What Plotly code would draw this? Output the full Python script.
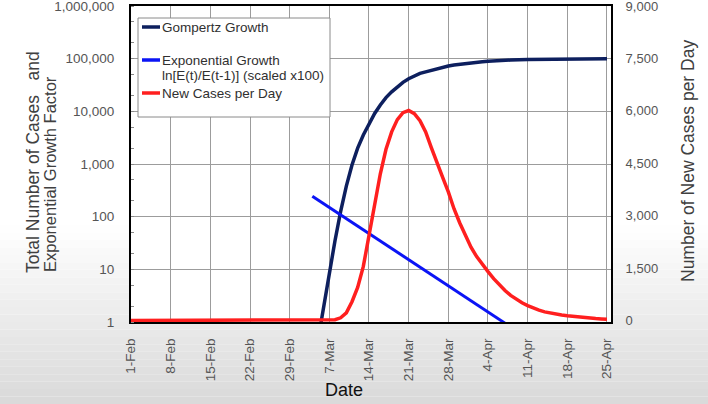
import pandas as pd
import plotly.graph_objects as go

# ---------------- data ----------------
gompertz_dates = [
    "2020-03-05", "2020-03-06", "2020-03-07", "2020-03-08", "2020-03-09",
    "2020-03-10", "2020-03-11", "2020-03-12", "2020-03-13", "2020-03-14",
    "2020-03-15", "2020-03-16", "2020-03-17", "2020-03-18", "2020-03-19",
    "2020-03-20", "2020-03-21", "2020-03-22", "2020-03-23", "2020-03-24",
    "2020-03-25", "2020-03-26", "2020-03-27", "2020-03-28", "2020-03-29",
    "2020-03-30", "2020-03-31", "2020-04-01", "2020-04-02", "2020-04-03",
    "2020-04-04", "2020-04-06", "2020-04-08", "2020-04-11", "2020-04-15",
    "2020-04-20", "2020-04-25",
]
gompertz_values = [
    0.45, 2.0, 8.9, 35, 126,
    380, 955, 2000, 3550, 5900,
    9100, 13200, 18200, 23400, 29500,
    35500, 41700, 46800, 52500, 56200,
    60300, 64600, 69200, 72400, 75900,
    78500, 81300, 83200, 85100, 87100,
    89100, 92300, 94400, 96600, 98400,
    99500, 100000,
]

exponential_dates = ["2020-03-04", "2020-03-11", "2020-03-18", "2020-03-25",
                     "2020-04-01", "2020-04-06", "2020-04-07"]
exponential_values = [245, 78, 25, 8, 2.5, 1.1, 0.95]

new_cases_dates = pd.date_range("2020-02-01", "2020-04-25", freq="D")
new_cases_values = [0] * 35 + [
    5, 25, 80, 220, 540, 950, 1550, 2450, 3250, 4200,
    4900, 5400, 5750, 5950, 6010, 5920, 5720, 5400, 4950, 4500,
    4100, 3680, 3200, 2800, 2430, 2100, 1830, 1600, 1400, 1200,
    1020, 860, 720, 610, 510, 430, 360, 300, 250, 215,
    185, 160, 140, 120, 100, 85, 70, 58, 48, 40,
]

left_tick_values = [1, 10, 100, 1000, 10000, 100000, 1000000]
left_tick_labels = ["1", "10", "100", "1,000", "10,000", "100,000", "1,000,000"]
right_tick_values = [0, 1500, 3000, 4500, 6000, 7500, 9000]

series_names = ["Gompertz Growth",
                "Exponential Growth",
                "ln[E(t)/E(t-1)] (scaled x100)",
                "New Cases per Day"]

# ---------------- styling ----------------
FONT = "Liberation Sans, Arial, sans-serif"
NAVY = "#0d1f5e"
BLUE = "#0b14f5"
RED = "#ff1f1f"
GRID = "#9c9c9c"

W, H = 708, 404
L, R, T, B = 131, 97, 6, 82
PW, PH = W - L - R, H - T - B


def px(xp):
    return (xp - L) / PW


def py(yp):
    return (H - B - yp) / PH


fig = go.Figure()
fig.add_trace(go.Scatter(x=gompertz_dates, y=gompertz_values, mode="lines",
                         name=series_names[0], line=dict(color=NAVY, width=3.5),
                         yaxis="y", showlegend=False))
fig.add_trace(go.Scatter(x=exponential_dates, y=exponential_values, mode="lines",
                         name=series_names[1], line=dict(color=BLUE, width=3),
                         yaxis="y", showlegend=False))
fig.add_trace(go.Scatter(x=new_cases_dates, y=new_cases_values, mode="lines",
                         name=series_names[3], line=dict(color=RED, width=3.5),
                         yaxis="y2", showlegend=False))

shapes = []
# background gradient at the bottom of the picture
n_bands = 24
top_px, bot_px = 225, 404
for i in range(n_bands):
    y0 = top_px + (bot_px - top_px) * i / n_bands
    y1 = top_px + (bot_px - top_px) * (i + 1) / n_bands
    t = (i + 0.5) / n_bands
    c = int(round(255 - 38 * t))
    shapes.append(dict(type="rect", xref="paper", yref="paper",
                       x0=px(0), x1=px(W), y0=py(y1), y1=py(y0),
                       fillcolor=f"rgb({c},{c},{c})", line=dict(width=0),
                       layer="below"))
# white plot area
shapes.append(dict(type="rect", xref="paper", yref="paper", x0=0, x1=1, y0=0, y1=1,
                   fillcolor="white", line=dict(width=0), layer="below"))

# custom legend
shapes.append(dict(type="rect", xref="paper", yref="paper",
                   x0=px(138), x1=px(330), y0=py(117), y1=py(18),
                   fillcolor="white", line=dict(color="#8a8a8a", width=1),
                   layer="above"))
for ypix, col in [(27, NAVY), (60, BLUE), (93, RED)]:
    shapes.append(dict(type="line", xref="paper", yref="paper",
                       x0=px(142), x1=px(160), y0=py(ypix), y1=py(ypix),
                       line=dict(color=col, width=3.5), layer="above"))

annotations = []
for ypix, txt in [(27, series_names[0]), (60, series_names[1]),
                  (76, series_names[2]), (93, series_names[3])]:
    annotations.append(dict(xref="paper", yref="paper", x=px(160), y=py(ypix),
                            xanchor="left", yanchor="middle", showarrow=False,
                            text=txt, font=dict(family=FONT, size=13.5, color="#303030")))

# axis titles
annotations.append(dict(xref="paper", yref="paper", x=px(33), y=py(275),
                        xanchor="center", yanchor="bottom", showarrow=False,
                        textangle=-90, text="Total Number of Cases&nbsp;&nbsp; and",
                        font=dict(family=FONT, size=17.5, color="#404040")))
annotations.append(dict(xref="paper", yref="paper", x=px(50), y=py(274),
                        xanchor="center", yanchor="bottom", showarrow=False,
                        textangle=-90, text="Exponential Growth Factor",
                        font=dict(family=FONT, size=16.5, color="#404040")))
annotations.append(dict(xref="paper", yref="paper", x=px(688), y=py(161),
                        xanchor="center", yanchor="middle", showarrow=False,
                        textangle=-90, text="Number of New Cases per Day",
                        font=dict(family=FONT, size=17.5, color="#404040")))
annotations.append(dict(xref="paper", yref="paper", x=px(344), y=py(390),
                        xanchor="center", yanchor="middle", showarrow=False,
                        text="Date", font=dict(family=FONT, size=18, color="#111111")))

fig.update_layout(
    width=W, height=H, autosize=False,
    margin=dict(l=L, r=R, t=T, b=B, pad=0, autoexpand=False),
    paper_bgcolor="white", plot_bgcolor="white",
    font=dict(family=FONT),
    shapes=shapes, annotations=annotations,
    xaxis=dict(type="date", range=["2020-02-01", "2020-04-25 17:00"],
               tick0="2020-02-01", dtick=7 * 86400000, tickformat="%-d-%b",
               tickangle=-90, showgrid=True, gridcolor=GRID, gridwidth=1,
               showline=True, linecolor="black", linewidth=2, mirror=True,
               ticks="", ticklabelstandoff=9, zeroline=False, automargin=False,
               ticklabeloverflow="allow",
               tickfont=dict(family=FONT, size=13.5, color="#555555")),
    yaxis=dict(type="log", range=[0, 6], tickvals=left_tick_values,
               ticktext=left_tick_labels, showgrid=True, gridcolor=GRID,
               gridwidth=1, showline=True, linecolor="black", linewidth=2,
               mirror=True, ticks="", ticklabelstandoff=12, zeroline=False,
               automargin=False, ticklabeloverflow="allow",
               minor=dict(ticks="inside", ticklen=3, tickcolor="#888888",
                          showgrid=False),
               tickfont=dict(family=FONT, size=13.5, color="#555555")),
    yaxis2=dict(overlaying="y", side="right", range=[-40, 9000],
                tickvals=right_tick_values, tickformat=",", showgrid=False,
                showline=True, linecolor="black", linewidth=2, ticks="",
                ticklabelstandoff=10, zeroline=False, automargin=False,
                ticklabeloverflow="allow",
                tickfont=dict(family=FONT, size=13, color="#555555")),
)

fig.write_html(
    "out.html",
    config={"displayModeBar": False},
    post_script="document.body.style.margin='0';document.body.style.padding='0';"
                "document.documentElement.style.overflow='hidden';",
)
